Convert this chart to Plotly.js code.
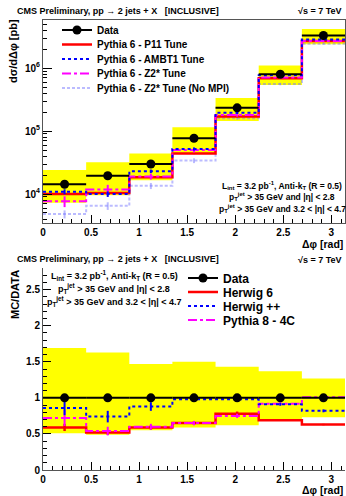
<!DOCTYPE html>
<html>
<head>
<meta charset="utf-8">
<script src="https://cdn.plot.ly/plotly-3.0.1.min.js"></script>
<style>html,body{margin:0;padding:0;background:#fff;}#plot{width:346px;height:496px;}</style>
</head>
<body>
<div id="plot"></div>
<script>
// ---- data ----
const binEdges = [0, 0.449, 0.898, 1.346, 1.795, 2.244, 2.693, 3.1416];
const tickVals = [0, 0.5, 1, 1.5, 2, 2.5, 3];
const tickLabels = ['0', '0.5', '1', '1.5', '2', '2.5', '3'];

// top panel: dsigma/dDeltaphi [pb]
const dataXsec = [1.43e4, 1.95e4, 3.0e4, 7.7e4, 2.34e5, 8.0e5, 3.3e6];
const dataXsecErr = [400, 500, 800, 2000, 5000, 2e4, 8e4];
const sysLowTop = [7.3e3, 9.6e3, 1.65e4, 4.5e4, 1.45e5, 5.4e5, 2.4e6];
const sysHighTop = [2.42e4, 3.2e4, 4.4e4, 1.15e5, 3.35e5, 1.1e6, 4.2e6];
const p11 = [1.0e4, 1.04e4, 1.85e4, 4.4e4, 1.7e5, 6.9e5, 2.7e6];
const p11Err = [300, 300, 500, 1000, 3000, 1e4, 3e4];
const ambt1 = [1.09e4, 1.0e4, 2.3e4, 5.2e4, 1.95e5, 7.7e5, 2.85e6];
const ambt1Err = [1000, 1000, 1500, 3000, 8000, 2e4, 6e4];
const z2 = [7.7e3, 1.18e4, 1.9e4, 5.0e4, 1.8e5, 7.1e5, 2.7e6];
const z2Err = [1500, 2200, 2000, 4000, 1e4, 3e4, 1e5];
const z2noMPI = [4.8e3, 6.5e3, 1.35e4, 3.4e4, 1.6e5, 5.6e5, 2.45e6];
const z2noMPIErr = [700, 900, 1500, 3000, 8000, 2.5e4, 8e4];

// bottom panel: MC/DATA
const dataRatio = [1, 1, 1, 1, 1, 1, 1];
const dataRatioErr = [0.03, 0.03, 0.03, 0.02, 0.02, 0.02, 0.02];
const sysLowRatio = [0.51, 0.49, 0.55, 0.59, 0.62, 0.68, 0.73];
const sysHighRatio = [1.69, 1.63, 1.47, 1.50, 1.43, 1.37, 1.27];
const herwig6 = [0.59, 0.52, 0.59, 0.65, 0.78, 0.69, 0.63];
const herwig6Err = [0.05, 0.03, 0.03, 0.02, 0.03, 0.01, 0.01];
const herwigpp = [0.86, 0.74, 0.88, 0.98, 0.98, 0.91, 0.82];
const herwigppErr = [0.1, 0.08, 0.06, 0.03, 0.03, 0.02, 0.02];
const pythia8 = [0.72, 0.54, 0.60, 0.65, 0.75, 0.92, 1.01];
const pythia8Err = [0.11, 0.06, 0.04, 0.03, 0.03, 0.02, 0.02];

// ---- helpers ----
const centers = binEdges.slice(0, -1).map((e, i) => (e + binEdges[i + 1]) / 2);
const halfW = binEdges.slice(0, -1).map((e, i) => (binEdges[i + 1] - e) / 2);
const step = v => v.concat([v[v.length - 1]]);
const FONT = 'Liberation Sans, Arial, sans-serif';

const RED = '#ff0000', BLUE = '#0000ff', MAG = '#ff00ff', LBLUE = 'rgba(120,120,255,0.5)', YEL = '#ffff00';

function band(lo, hi, xa, ya) {
  return [
    {x: binEdges, y: step(lo), xaxis: xa, yaxis: ya, mode: 'lines', line: {width: 0, shape: 'hv'}, showlegend: false, hoverinfo: 'skip'},
    {x: binEdges, y: step(hi), xaxis: xa, yaxis: ya, mode: 'lines', line: {width: 0, shape: 'hv'}, fill: 'tonexty', fillcolor: YEL, showlegend: false, hoverinfo: 'skip'}
  ];
}
function hist(vals, errs, color, dash, width, name, leg, xa, ya) {
  return [
    {x: centers, y: vals, xaxis: xa, yaxis: ya, mode: 'markers', marker: {size: 1, color: 'rgba(0,0,0,0)'},
     error_y: {type: 'data', array: errs, color: color, thickness: width, width: 0}, showlegend: false, hoverinfo: 'skip'},
    {x: binEdges, y: step(vals), xaxis: xa, yaxis: ya, mode: 'lines', name: name, legend: leg,
     line: {color: color, dash: dash, width: width, shape: 'hv'}}
  ];
}
function dataTrace(vals, errs, xa, ya, leg) {
  return [
    {x: centers, y: vals, xaxis: xa, yaxis: ya, mode: 'markers', showlegend: false,
     marker: {symbol: 'circle', size: 9, color: '#000'},
     error_x: {type: 'data', array: halfW, color: '#000', thickness: 2, width: 0},
     error_y: {type: 'data', array: errs, color: '#000', thickness: 2, width: 0}},
    {x: [null], y: [null], xaxis: xa, yaxis: ya, mode: 'lines+markers', name: 'Data', legend: leg,
     line: {color: '#000', width: 2}, marker: {symbol: 'circle', size: 9, color: '#000'}}
  ];
}

const traces = [].concat(
  band(sysLowTop, sysHighTop, 'x', 'y'),
  hist(z2noMPI, z2noMPIErr, LBLUE, '3px,2px', 2, 'Pythia 6 - Z2* Tune (No MPI)', 'legend5', 'x', 'y'),
  hist(p11, p11Err, RED, 'solid', 2.5, 'Pythia 6 - P11 Tune', 'legend2', 'x', 'y'),
  hist(z2, z2Err, MAG, 'dashdot', 2, 'Pythia 6 - Z2* Tune', 'legend4', 'x', 'y'),
  hist(ambt1, ambt1Err, BLUE, 'dot', 2, 'Pythia 6 - AMBT1 Tune', 'legend3', 'x', 'y'),
  dataTrace(dataXsec, dataXsecErr, 'x', 'y', 'legend'),
  band(sysLowRatio, sysHighRatio, 'x2', 'y2'),
  hist(herwig6, herwig6Err, RED, 'solid', 2.5, 'Herwig 6', 'legend7', 'x2', 'y2'),
  hist(pythia8, pythia8Err, MAG, 'dashdot', 2, 'Pythia 8 - 4C', 'legend9', 'x2', 'y2'),
  hist(herwigpp, herwigppErr, BLUE, 'dot', 2, 'Herwig ++', 'legend8', 'x2', 'y2'),
  dataTrace(dataRatio, dataRatioErr, 'x2', 'y2', 'legend6')
);

// pixel helpers for decorations (plot area: x 43..345, y 20..470)
const px = p => (p - 43) / 302;
const py = p => (470 - p) / 450;

function leg(xp, yp, size) {
  return {x: px(xp), y: py(yp), xanchor: 'left', yanchor: 'middle', bgcolor: 'rgba(0,0,0,0)', borderwidth: 0,
          itemwidth: 30, font: {family: FONT, size: size, color: '#000', weight: 'bold'}, itemclick: false};
}

const xCommon = {
  range: [0, Math.PI], tickmode: 'array', tickvals: tickVals, ticktext: tickLabels,
  ticks: 'inside', ticklen: 8, tickwidth: 1, tickcolor: '#000',
  minor: {dtick: 0.1, tick0: 0, ticks: 'inside', ticklen: 4, tickcolor: '#000'},
  showgrid: false, zeroline: false, showline: true, linecolor: '#555', linewidth: 1,
  tickfont: {family: FONT, size: 10, color: '#000', weight: 'bold'}
};

const annFont = (s) => ({family: FONT, size: s, color: '#000', weight: 'bold'});
const ann = (text, x, y, xanchor, size, extra) => Object.assign({xref: 'paper', yref: 'paper', x: px(x), y: py(y), xanchor: xanchor, yanchor: 'middle', text: text, showarrow: false, font: annFont(size)}, extra || {});

const pT = 'p<sub>T</sub><sup>jet</sup>';
const layout = {
  width: 346, height: 496,
  margin: {l: 43, r: 1, t: 20, b: 26},
  paper_bgcolor: '#fff', plot_bgcolor: 'rgba(0,0,0,0)',
  showlegend: true,
  xaxis: Object.assign({}, xCommon, {domain: [0, 1], anchor: 'y', mirror: true}),
  xaxis2: Object.assign({}, xCommon, {domain: [0, 1], anchor: 'y2'}),
  yaxis: {
    type: 'log', domain: [py(223), 1], anchor: 'x', range: [3.54, 6.765],
    tickmode: 'array', tickvals: [1e4, 1e5, 1e6], ticktext: ['10<sup>4</sup>', '10<sup>5</sup>', '10<sup>6</sup>'],
    ticks: 'inside', ticklen: 9, tickcolor: '#000',
    minor: {dtick: 'D1', ticks: 'inside', ticklen: 4, tickcolor: '#000'},
    showgrid: false, zeroline: false, showline: true, linecolor: '#555', mirror: true,
    tickfont: {family: FONT, size: 10, color: '#000', weight: 'bold'}
  },
  yaxis2: {
    domain: [0, py(268)], anchor: 'x2', range: [0, 2.8],
    tickmode: 'array', tickvals: [0, 0.5, 1, 1.5, 2, 2.5], ticktext: ['0', '0.5', '1', '1.5', '2', '2.5'],
    ticks: 'inside', ticklen: 8, tickcolor: '#000',
    minor: {dtick: 0.1, tick0: 0, ticks: 'inside', ticklen: 4, tickcolor: '#000'},
    showgrid: false, zeroline: false, showline: true, linecolor: '#555',
    tickfont: {family: FONT, size: 10, color: '#000', weight: 'bold'}
  },
  legend: leg(57, 30, 10),
  legend2: leg(57, 44.5, 10),
  legend3: leg(57, 59, 10),
  legend4: leg(57, 73.5, 10),
  legend5: leg(57, 88, 10),
  legend6: leg(183, 278, 12),
  legend7: leg(183, 292, 12),
  legend8: leg(183, 306, 12),
  legend9: leg(183, 320, 12),
  annotations: [
    ann('CMS Preliminary, pp \u2192 2 jets + X \u00a0\u00a0[INCLUSIVE]', 15, 11, 'left', 9),
    ann('\u221As = 7 TeV', 344, 11, 'right', 9),
    ann('CMS Preliminary, pp \u2192 2 jets + X \u00a0\u00a0[INCLUSIVE]', 15, 259, 'left', 9),
    ann('\u221As = 7 TeV', 344, 260, 'right', 9),
    ann('L<sub>int</sub> = 3.2 pb<sup>-1</sup>, Anti-k<sub>T</sub> (R = 0.5)', 282, 185, 'center', 8.5),
    ann(pT + ' > 35 GeV and |\u03b7| < 2.8', 282, 196.5, 'center', 8.5),
    ann(pT + ' > 35 GeV and 3.2 < |\u03b7| < 4.7', 282, 208, 'center', 8.5),
    ann('L<sub>int</sub> = 3.2 pb<sup>-1</sup>, Anti-k<sub>T</sub> (R = 0.5)', 114, 275, 'center', 9),
    ann(pT + ' > 35 GeV and |\u03b7| < 2.8', 114, 288, 'center', 9),
    ann(pT + ' > 35 GeV and 3.2 < |\u03b7| < 4.7', 114, 301, 'center', 9),
    ann('d\u03c3/d\u0394\u03c6 [pb]', 13, 51, 'center', 11, {textangle: -90}),
    ann('MC/DATA', 15, 295, 'center', 11, {textangle: -90}),
    ann('\u0394\u03c6 [rad]', 345, 244, 'right', 10.5),
    ann('\u0394\u03c6 [rad]', 345, 490, 'right', 10.5)
  ]
};

Plotly.newPlot('plot', traces, layout, {staticPlot: true, displayModeBar: false});
</script>
</body>
</html>
